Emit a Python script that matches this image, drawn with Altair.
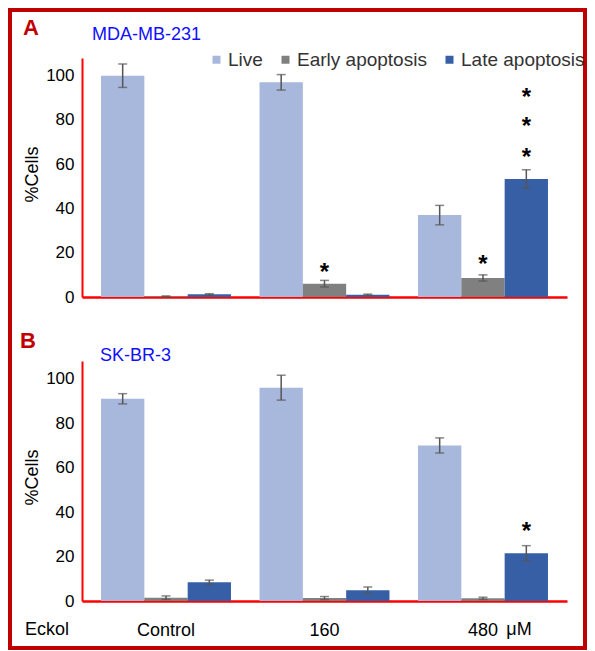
import altair as alt
import pandas as pd

FONT = "Liberation Sans"

groups = ["Control", "160", "480"]
series = ["Live", "Early apoptosis", "Late apoptosis"]
colors = ["#a8b7dc", "#808080", "#365fa6"]
y_ticks = [0, 20, 40, 60, 80, 100]

# Panel A: MDA-MB-231
a_live = [100.0, 97.0, 37.0]
a_live_err = [5.3, 3.5, 4.4]
a_early = [0.3, 6.0, 8.6]
a_early_err = [0.2, 1.5, 1.4]
a_late = [1.2, 1.0, 53.3]
a_late_err = [0.3, 0.3, 4.2]
a_star_group = ["160", "480", "480", "480", "480"]
a_star_series = ["Early apoptosis", "Early apoptosis", "Late apoptosis", "Late apoptosis", "Late apoptosis"]
a_star_y = [13.6, 17.2, 92.8, 79.6, 65.6]

# Panel B: SK-BR-3
b_live = [91.0, 96.0, 70.0]
b_live_err = [2.3, 5.6, 3.4]
b_early = [1.5, 1.3, 1.2]
b_early_err = [0.8, 0.7, 0.5]
b_late = [8.4, 4.8, 21.5]
b_late_err = [1.0, 1.5, 3.4]
b_star_group = ["480"]
b_star_series = ["Late apoptosis"]
b_star_y = [33.9]

letters = ["A", "B"]
cells = ["MDA-MB-231", "SK-BR-3"]
x_prefix = "Eckol"
unit = "μM"


def make_df(vals_list, errs_list):
    rows = []
    for vals, errs, s in zip(vals_list, errs_list, series):
        for g, v, e in zip(groups, vals, errs):
            rows.append(dict(group=g, series=s, value=v, lo=max(v - e, 0), hi=v + e))
    return pd.DataFrame(rows)


df_a = make_df([a_live, a_early, a_late], [a_live_err, a_early_err, a_late_err])
df_b = make_df([b_live, b_early, b_late], [b_live_err, b_early_err, b_late_err])
st_a = pd.DataFrame(dict(group=a_star_group, series=a_star_series, value=a_star_y))
st_b = pd.DataFrame(dict(group=b_star_group, series=b_star_series, value=b_star_y))


def panel(df, stars, letter, cell, show_legend, show_labels, letter_xy, cell_xy):
    if show_labels:
        xaxis = alt.Axis(labels=True, ticks=False, title=None, labelAngle=0,
                         labelFontSize=18, labelFont=FONT, labelColor="black",
                         labelPadding=20, domainColor="#ff0000", domainWidth=2.5)
    else:
        xaxis = alt.Axis(labels=False, ticks=False, title=None,
                         domainColor="#ff0000", domainWidth=2.5)
    xscale = alt.Scale(domain=groups, paddingInner=0.18, paddingOuter=0.12)
    x = alt.X("group:N", scale=xscale, axis=xaxis)
    xo = alt.XOffset("series:N", scale=alt.Scale(domain=series, paddingInner=0, paddingOuter=0))
    yscale = alt.Scale(domain=[0, 108], nice=False)
    yaxis = alt.Axis(values=y_ticks, title="%Cells", titleFontSize=18, titleFont=FONT,
                     titleFontWeight="normal", titleColor="black", titlePadding=4, titleY=116,
                     labelFontSize=17, labelFont=FONT, labelColor="black", labelPadding=8,
                     ticks=False, domainColor="#ff0000", domainWidth=2, grid=False)
    if show_legend:
        leg = alt.Legend(orient="none", legendX=125, legendY=-8, direction="horizontal",
                         title=None, symbolType="square", symbolSize=64, symbolStrokeWidth=0,
                         labelFontSize=19, labelFont=FONT, labelColor="#333333",
                         columnPadding=13, labelOffset=2, padding=0)
    else:
        leg = None
    color = alt.Color("series:N", scale=alt.Scale(domain=series, range=colors), legend=leg)

    base = alt.Chart(df)
    bars = base.mark_bar().encode(
        x=x, xOffset=xo, y=alt.Y("value:Q", scale=yscale, axis=yaxis), color=color
    )
    rules = base.mark_rule(color="#555555", strokeWidth=1.5).encode(
        x=x, xOffset=xo, y=alt.Y("lo:Q", scale=yscale, axis=yaxis), y2="hi:Q"
    )
    caps = base.transform_fold(["lo", "hi"], as_=["k", "v"]).mark_tick(
        color="#555555", thickness=1.5, size=9
    ).encode(x=x, xOffset=xo, y=alt.Y("v:Q", scale=yscale, axis=yaxis))
    star = alt.Chart(stars).mark_text(
        text="*", fontSize=24, fontWeight="bold", font=FONT, color="black",
        baseline="middle", dy=6
    ).encode(x=x, xOffset=xo, y=alt.Y("value:Q", scale=yscale, axis=yaxis))
    t_letter = alt.Chart(pd.DataFrame({"t": [letter]})).mark_text(
        align="left", baseline="middle", fontSize=22, fontWeight="bold",
        font=FONT, color="#c00000"
    ).encode(x=alt.value(letter_xy[0]), y=alt.value(letter_xy[1]), text="t:N")
    t_cell = alt.Chart(pd.DataFrame({"t": [cell]})).mark_text(
        align="left", baseline="middle", fontSize=18, font=FONT, color="#1010ff"
    ).encode(x=alt.value(cell_xy[0]), y=alt.value(cell_xy[1]), text="t:N")
    layers = [bars, rules, caps, star, t_letter, t_cell]
    return layers, x


layers_a, xa = panel(df_a, st_a, letters[0], cells[0], True, False, (-59, -30), (10, -23))
border = alt.Chart(pd.DataFrame({"d": [0]})).mark_rect(
    fillOpacity=0, stroke="#c00000", strokeWidth=4
).encode(x=alt.value(-72), x2=alt.value(503), y=alt.value(-48), y2=alt.value(590))
chart_a = alt.layer(border, *layers_a).properties(width=485, height=239)

layers_b, xb = panel(df_b, st_b, letters[1], cells[1], False, True, (-62, -20), (18, -5))
t_eck = alt.Chart(pd.DataFrame({"t": [x_prefix]})).mark_text(
    align="center", baseline="middle", fontSize=18, font=FONT, color="black"
).encode(x=alt.value(-35), y=alt.value(269), text="t:N")
t_unit = alt.Chart(pd.DataFrame({"t": [unit], "group": ["480"]})).mark_text(
    align="center", baseline="middle", fontSize=18, font=FONT, color="black", dx=36
).encode(x=xb, y=alt.value(269), text="t:N")
chart_b = alt.layer(*layers_b, t_eck, t_unit).properties(width=485, height=240)

chart = alt.vconcat(chart_a, chart_b, spacing=64, bounds="flush").resolve_legend(
    color="independent"
).properties(padding=0).configure_view(stroke=None).configure_axis(grid=False)

chart.save("out.html", embed_options={"renderer": "svg", "actions": False})
